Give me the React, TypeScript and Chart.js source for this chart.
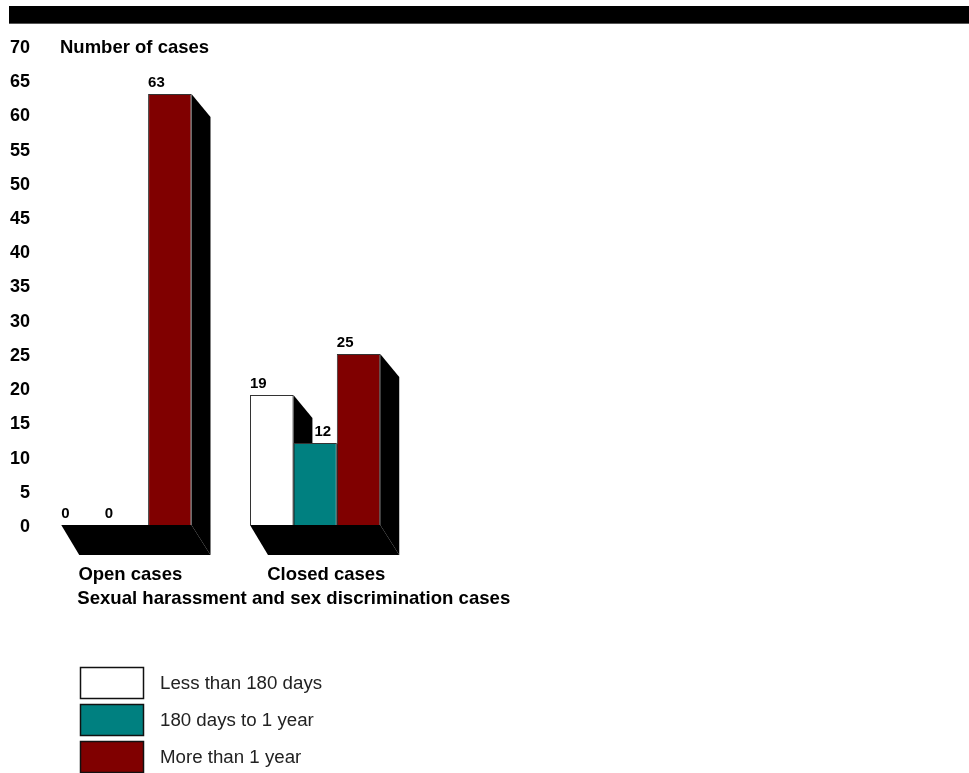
import React, { useEffect, useRef } from "react";
import { Chart, registerables } from "chart.js";

Chart.register(...registerables);

const categories = ["Open cases", "Closed cases"];
const seriesLabels = ["Less than 180 days", "180 days to 1 year", "More than 1 year"];
const lessThan180Days = [0, 19];
const days180To1Year = [0, 12];
const moreThan1Year = [63, 25];
const yTickMin = 0;
const yTickMax = 70;
const yTickStep = 5;
const yAxisTitle = "Number of cases";
const xAxisTitle = "Sexual harassment and sex discrimination cases";

const COLORS = ["#ffffff", "#008080", "#800000"];
const FONT = "'Liberation Sans', Arial, sans-serif";
const DEPTH_X = 19;
const DEPTH_Y = 23;
const FLOOR_Y = 30;

const depthPlugin = {
  id: "depth3d",
  beforeDraw(chart: any) {
    const ctx = chart.ctx;
    ctx.save();
    ctx.fillStyle = "#000";
    ctx.fillRect(9, 6, 960, 18);
    ctx.fillStyle = "#555";
    ctx.fillRect(9, 23, 960, 1);
    ctx.restore();
  },
  beforeDatasetsDraw(chart: any) {
    const ctx = chart.ctx;
    const metas = chart.data.datasets.map((_: any, i: number) => chart.getDatasetMeta(i));
    const n = chart.data.labels.length;
    ctx.save();
    ctx.fillStyle = "#000";
    for (let c = 0; c < n; c++) {
      const first = metas[0].data[c];
      const last = metas[metas.length - 1].data[c];
      const l = first.x - first.width / 2;
      const r = last.x + last.width / 2;
      const base = first.base;
      ctx.beginPath();
      ctx.moveTo(l, base);
      ctx.lineTo(r, base);
      ctx.lineTo(r + DEPTH_X, base + FLOOR_Y);
      ctx.lineTo(l + 18, base + FLOOR_Y);
      ctx.closePath();
      ctx.fill();
      for (const m of metas) {
        const b = m.data[c];
        const br = b.x + b.width / 2;
        ctx.beginPath();
        ctx.moveTo(br, b.y);
        ctx.lineTo(br + DEPTH_X, b.y + DEPTH_Y);
        ctx.lineTo(br + DEPTH_X, b.base + FLOOR_Y);
        ctx.lineTo(br, b.base);
        ctx.closePath();
        ctx.fill();
      }
    }
    ctx.restore();
  },
  afterDatasetsDraw(chart: any) {
    const ctx = chart.ctx;
    const metas = chart.data.datasets.map((_: any, i: number) => chart.getDatasetMeta(i));
    const n = chart.data.labels.length;
    ctx.save();
    ctx.fillStyle = "#000";
    ctx.font = `bold 15px ${FONT}`;
    ctx.textAlign = "left";
    ctx.textBaseline = "middle";
    for (let c = 0; c < n; c++) {
      metas.forEach((m: any, di: number) => {
        const b = m.data[c];
        let x = b.x - b.width / 2;
        if (di > 0) {
          const p = metas[di - 1].data[c];
          if (p.y < b.y - 1) x = p.x + p.width / 2 + DEPTH_X + 2;
        }
        const v = chart.data.datasets[di].data[c];
        ctx.fillText(String(v), x, b.y - 11);
      });
    }
    ctx.restore();
  },
  afterDraw(chart: any) {
    const ctx = chart.ctx;
    const ys = chart.scales.y;
    const first = chart.getDatasetMeta(0).data[0];
    ctx.save();
    ctx.fillStyle = "#000";
    ctx.textBaseline = "middle";
    ctx.textAlign = "left";
    ctx.font = `bold 18.5px ${FONT}`;
    ctx.fillText(yAxisTitle, 60, ys.getPixelForValue(yTickMax) + 2);
    ctx.font = `bold 18.6px ${FONT}`;
    ctx.fillText(xAxisTitle, first.x - first.width / 2 + 16, first.base + 74);
    // legend
    const ds = chart.data.datasets;
    ctx.font = `18.7px ${FONT}`;
    ds.forEach((d: any, i: number) => {
      const y = 667 + i * 37;
      ctx.fillStyle = d.backgroundColor;
      ctx.fillRect(80, y, 64, 32);
      ctx.strokeStyle = "#111";
      ctx.lineWidth = 1.5;
      ctx.strokeRect(80.5, y + 0.5, 63, 31);
      ctx.fillStyle = "#222";
      ctx.fillText(d.label, 160, y + 17);
    });
    ctx.restore();
  },
};

export default function App() {
  const ref = useRef<HTMLCanvasElement>(null);
  useEffect(() => {
    if (!ref.current) return;
    const seriesData = [lessThan180Days, days180To1Year, moreThan1Year];
    const chart = new Chart(ref.current, {
      type: "bar",
      data: {
        labels: categories,
        datasets: seriesData.map((d, i) => ({
          label: seriesLabels[i],
          data: d,
          backgroundColor: COLORS[i],
          borderColor: "#333",
          borderWidth: 1,
          barPercentage: 1,
          categoryPercentage: 0.69,
        })),
      },
      options: {
        animation: false,
        responsive: true,
        maintainAspectRatio: false,
        layout: { padding: { top: 46, right: 559.5, left: 0, bottom: 0 } },
        plugins: { legend: { display: false }, tooltip: { enabled: false }, title: { display: false } },
        scales: {
          x: {
            grid: { display: false, drawTicks: false },
            border: { display: false },
            ticks: {
              align: "start",
              labelOffset: -48,
              padding: 39,
              color: "#000",
              font: { family: FONT, size: 18.5, weight: "bold" },
            },
            afterFit(scale: any) {
              scale.height = 248;
            },
          },
          y: {
            min: yTickMin,
            max: yTickMax,
            grid: { display: false, drawTicks: false },
            border: { display: false },
            ticks: {
              stepSize: yTickStep,
              padding: 2,
              labelOffset: 2,
              color: "#000",
              font: { family: FONT, size: 18, weight: "bold" },
            },
            afterFit(scale: any) {
              scale.width = 32;
            },
          },
        },
      },
      plugins: [depthPlugin],
    });
    return () => chart.destroy();
  }, []);
  return (
    <div style={{ position: "absolute", left: 0, top: 0, width: 969, height: 773, background: "#fff" }}>
      <canvas ref={ref} />
    </div>
  );
}
